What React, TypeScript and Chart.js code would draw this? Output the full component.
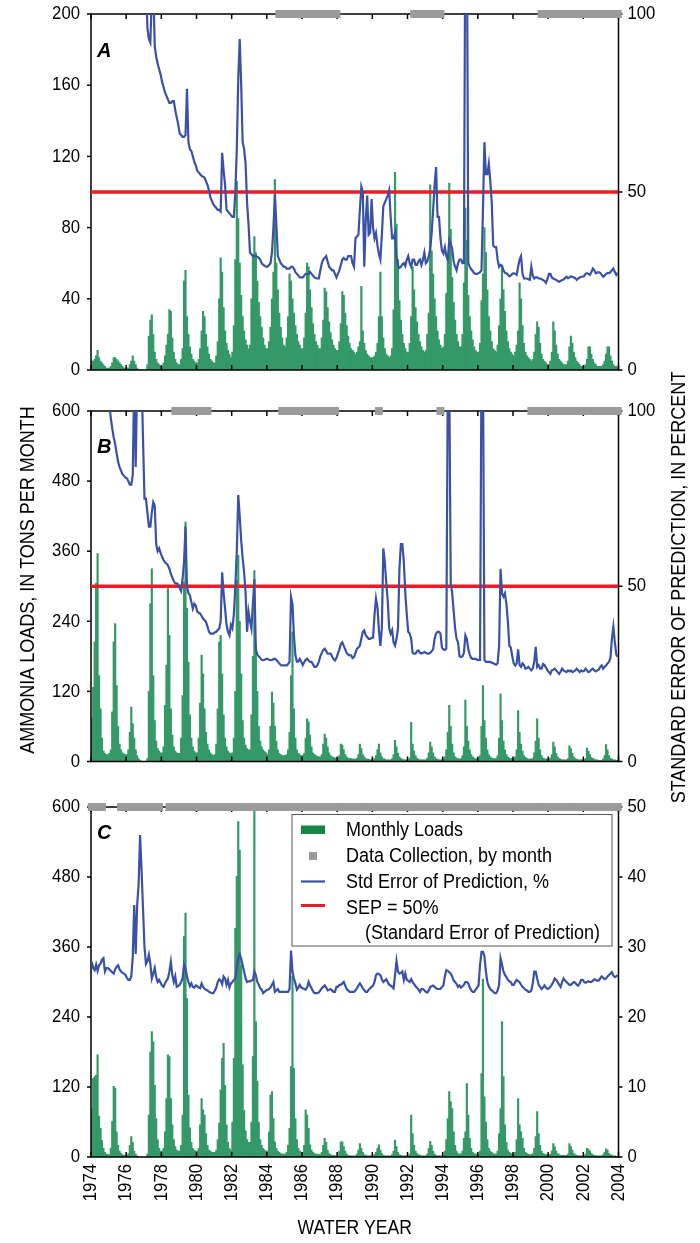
import React, { useEffect, useRef } from "react";
import { Chart, registerables } from "chart.js";
Chart.register(...registerables);

const FIRST_YEAR = 1974;
const LAST_YEAR = 2004;
const YEAR_TICKS = [1974, 1976, 1978, 1980, 1982, 1984, 1986, 1988, 1990, 1992, 1994, 1996, 1998, 2000, 2002, 2004];
const SEP_LIMIT = 50;

const LOAD_TICKS_A = [0, 40, 80, 120, 160, 200];
const SEP_TICKS_A = [0, 50, 100];
const LOAD_TICKS_B = [0, 120, 240, 360, 480, 600];
const SEP_TICKS_B = [0, 50, 100];
const LOAD_TICKS_C = [0, 120, 240, 360, 480, 600];
const SEP_TICKS_C = [0, 10, 20, 30, 40, 50];

const LEGEND_LABELS = ["Monthly Loads", "Data Collection, by month", "Std Error of Prediction, %", "SEP = 50%", "(Standard Error of Prediction)"];
const X_TITLE = "WATER YEAR";
const Y_TITLE = "AMMONIA LOADS, IN TONS PER MONTH";
const Y2_TITLE = "STANDARD ERROR OF PREDICTION, IN PERCENT";

const N = null;

// monthly loads, one row per water year (Oct..Sep), tons per month
const LOADS_A = [
  [5, 5, 6, 8, 11, 7, 5, 4, 3, 2, 1, 1],
  [1, 2, 4, 7, 7, 6, 5, 4, 3, 2, 1, 1],
  [1, 1, 3, 5, 8, 5, 3, 1, 0, 0, 0, 0],
  [0, 0, 3, 19, 28, 31, 20, 10, 6, 4, 3, 2],
  [2, 4, 8, 14, 20, 34, 33, 18, 10, 6, 4, 3],
  [3, 6, 12, 50, 56, 30, 20, 13, 9, 6, 5, 4],
  [4, 6, 12, 22, 33, 30, 20, 13, 9, 6, 5, 4],
  [4, 8, 16, 40, 63, 55, 35, 22, 15, 11, 9, 7],
  [10, 25, 62, 106, 85, 60, 42, 30, 22, 17, 14, 12],
  [14, 40, 65, 75, 66, 50, 38, 30, 24, 18, 14, 12],
  [12, 16, 24, 40, 55, 107, 60, 45, 32, 24, 18, 14],
  [13, 18, 30, 54, 50, 40, 32, 25, 20, 16, 14, 12],
  [12, 18, 32, 60, 58, 45, 35, 26, 20, 16, 14, 12],
  [12, 18, 28, 46, 44, 35, 27, 21, 17, 14, 12, 11],
  [11, 16, 26, 44, 42, 32, 25, 19, 15, 12, 11, 10],
  [9, 10, 13, 16, 47, 22, 15, 11, 9, 8, 7, 7],
  [7, 8, 10, 15, 30, 55, 30, 18, 12, 9, 8, 7],
  [8, 12, 34, 111, 82, 62, 39, 28, 20, 15, 12, 10],
  [10, 15, 30, 58, 45, 35, 27, 20, 16, 13, 11, 10],
  [11, 20, 32, 104, 67, 54, 40, 30, 22, 17, 14, 12],
  [13, 20, 43, 65, 105, 79, 52, 38, 28, 20, 16, 13],
  [13, 20, 49, 91, 73, 42, 30, 22, 17, 13, 11, 10],
  [10, 15, 39, 54, 80, 66, 45, 30, 22, 16, 12, 11],
  [10, 14, 25, 40, 58, 45, 33, 22, 16, 12, 10, 9],
  [8, 10, 14, 22, 49, 40, 25, 15, 10, 8, 7, 6],
  [5, 6, 10, 20, 27, 24, 15, 9, 6, 5, 4, 3],
  [3, 5, 10, 27, 22, 14, 9, 6, 5, 4, 3, 3],
  [3, 5, 13, 19, 15, 10, 7, 5, 4, 3, 2, 2],
  [2, 3, 6, 13, 13, 9, 6, 4, 3, 2, 2, 2],
  [2, 3, 5, 9, 13, 13, 8, 5, 3, 2, 2, 1],
];

// standard error of prediction, percent
const SEP_A = [
  [N, N, N, N, N, N, N, N, N, N, N, N],
  [N, N, N, N, N, N, N, N, N, N, N, N],
  [N, N, N, N, N, N, N, N, N, N, N, N],
  [N, 110, 96, 93, 92, 105, 108, 91, 88, 86, 84.5, 83],
  [81, 79.5, 78, 77, 76, 75, 75, 75.5, 75.5, 73, 71, 69],
  [66.5, 66, 65.5, 65.5, 66, 79, 64, 62, 61.5, 60, 58.5, 57.5],
  [56, 55.5, 55, 54.5, 54.3, 54, 53, 52, 50.5, 48.5, 47.5, 46.5],
  [46, 45.5, 45, 45, 44.5, 61, 56, 52, 45, 44.5, 44, 43.5],
  [43, 43, 50, 62, 82, 93, 80, 64, 62, 58, 47, 41],
  [33, 32.5, 32, 32, 32, 31.8, 31.5, 31, 30, 29.5, 29.3, 29],
  [29, 29.5, 30, 33, 40, 49.5, 41, 32, 31, 30, 29.5, 29],
  [29, 28.5, 28.5, 28.5, 29, 29, 28.5, 27.5, 27, 26.5, 26, 26],
  [26, 26.5, 27, 27, 27, 27.5, 27, 26.5, 26, 25.8, 25.7, 25.7],
  [28, 30, 31, 31.5, 32, 30.5, 29, 28.5, 28, 28, 27, 26],
  [27, 28, 29.5, 31, 31.5, 31, 31, 32, 32, 32, 30, 29],
  [37, 37.5, 38, 45, 51.5, 50, 29, 42, 49, 38, 38.5, 48],
  [40, 37, 38.5, 35, 32.5, 31, 38, 46, 47, 48, 49, 50.5],
  [43, 37, 37, 38.5, 32, 29.3, 28.7, 29, 29.7, 30, 29.2, 31],
  [32, 30, 29, 31, 31, 29.5, 29.5, 30.5, 31, 29.5, 31, 33],
  [30, 30.5, 32, 34, 38.5, 45, 52, 57, 43, 43, 37, 33.5],
  [32.7, 34.5, 32, 31, 36.5, 35.5, 34, 30.5, 29, 28, 30, 31],
  [31, 30, 30, 130, 130, 30, 29, 28.3, 27.8, 27.2, 27, 27],
  [27.2, 27.5, 28, 45, 64, 55, 55, 58, 53, 47, 35, 34.5],
  [34.5, 31, 29, 29.5, 29.3, 28, 27.3, 27.2, 26.8, 26.3, 26.6, 27],
  [27.2, 27, 26.7, 29, 31, 32, 27, 25.7, 25.7, 25.7, 25.5, 25.3],
  [29, 26.5, 25.7, 26, 26, 25.7, 25.7, 25.5, 25.3, 25, 24.5, 25.5],
  [27, 27, 26, 25.7, 25.5, 25.3, 25, 24.8, 25, 25.3, 25.4, 25.8],
  [26.2, 25.8, 26, 26.3, 26.2, 26, 25.8, 25.3, 25.7, 26, 26.2, 26.2],
  [26.4, 27, 27.2, 27, 26.7, 27.5, 28.5, 28, 27.2, 27.4, 27.5, 27.3],
  [26.8, 26.2, 26.5, 27, 27.2, 27.2, 27.5, 28, 28.5, 27.5, 26.7, 27.3],
];

const LOADS_B = [
  [76, 127, 205, 305, 356, 147, 90, 40, 18, 14, 12, 12],
  [14, 20, 85, 205, 236, 130, 60, 30, 20, 15, 13, 12],
  [12, 20, 50, 93, 65, 40, 20, 10, 5, 2, 0, 0],
  [0, 0, 5, 120, 270, 330, 147, 70, 35, 22, 18, 15],
  [15, 25, 96, 165, 296, 216, 90, 45, 25, 18, 15, 14],
  [14, 40, 113, 307, 410, 262, 170, 80, 40, 25, 18, 15],
  [15, 40, 100, 182, 150, 90, 50, 30, 20, 15, 12, 10],
  [12, 30, 90, 205, 216, 150, 80, 40, 25, 18, 15, 14],
  [15, 40, 120, 310, 353, 240, 150, 70, 40, 28, 22, 20],
  [20, 80, 180, 327, 200, 120, 60, 35, 25, 20, 17, 15],
  [12, 20, 60, 119, 100, 60, 35, 20, 14, 12, 10, 10],
  [10, 12, 20, 50, 147, 222, 90, 40, 20, 14, 12, 10],
  [10, 14, 40, 73, 68, 45, 25, 15, 12, 10, 9, 8],
  [8, 12, 30, 47, 40, 25, 15, 10, 8, 7, 6, 6],
  [6, 10, 30, 28, 20, 12, 8, 6, 5, 5, 4, 4],
  [4, 6, 12, 30, 22, 12, 8, 5, 4, 4, 3, 3],
  [3, 5, 10, 20, 30, 15, 8, 5, 4, 3, 3, 3],
  [3, 5, 12, 36, 25, 14, 8, 5, 4, 3, 3, 3],
  [3, 6, 67, 30, 18, 10, 6, 4, 3, 3, 3, 3],
  [3, 6, 15, 33, 25, 15, 8, 5, 4, 3, 3, 3],
  [4, 8, 20, 50, 96, 60, 30, 15, 8, 6, 5, 4],
  [5, 10, 25, 105, 60, 35, 20, 12, 8, 6, 5, 5],
  [5, 10, 60, 130, 70, 40, 20, 12, 8, 6, 5, 5],
  [5, 10, 40, 116, 70, 35, 20, 12, 8, 6, 5, 5],
  [5, 8, 20, 87, 50, 30, 18, 10, 7, 5, 4, 4],
  [4, 6, 15, 35, 73, 40, 20, 10, 6, 5, 4, 4],
  [4, 6, 12, 33, 25, 14, 8, 5, 4, 3, 3, 3],
  [3, 5, 27, 22, 14, 8, 5, 4, 3, 3, 3, 3],
  [3, 5, 23, 18, 12, 7, 5, 4, 3, 3, 2, 2],
  [2, 4, 10, 29, 20, 10, 6, 4, 3, 3, 2, 2],
];

const SEP_B = [
  [N, N, N, N, N, N, N, N, N, N, N, N],
  [102, 98, 95, 92.5, 90.5, 88, 85.5, 84, 83, 82, 81.5, 81],
  [80.8, 80, 79, 79, 81.7, 110, 84, 110, 115, 115, 110, 92],
  [75, 75, 71, 67, 67, 71, 74, 73, 62, 60, 60.8, 59.5],
  [58.4, 57.5, 56.8, 56.5, 56, 55, 53.5, 52.5, 51.5, 50.8, 50.8, 50.5],
  [49.5, 48.6, 52, 57, 67, 50, 48, 47.4, 45.5, 43.6, 45, 44.5],
  [42.8, 42.5, 42.2, 41.5, 40.8, 40.3, 39.8, 38.5, 37, 36.5, 36.5, 36.5],
  [36.8, 37, 37.5, 37.9, 40, 54, 48, 43.6, 39, 37, 36, 39],
  [38, 42, 50, 60, 76, 70, 63, 58, 54, 48, 37, 42.7],
  [40, 37.9, 45, 52, 32, 30.5, 30, 29.5, 29, 28.9, 29, 29.3],
  [29.3, 29, 28.9, 29, 29.2, 29.3, 29, 28.5, 28, 27.5, 27.4, 27.4],
  [27.4, 27.4, 27.8, 28.4, 47, 45, 36, 30.3, 28.5, 28.5, 29.3, 28.5],
  [27.5, 28.3, 29, 29.3, 28.8, 28.4, 28.4, 27.7, 27, 27, 27.5, 28.5],
  [30, 31, 31.8, 32.2, 31.5, 30.8, 30.8, 30.8, 30, 29.2, 28.8, 29.5],
  [30.8, 32, 33.5, 34, 33, 32, 31, 30.5, 30.3, 30.3, 29.5, 29.8],
  [31, 32.2, 32.5, 33.1, 35, 37, 37.4, 36, 35.5, 35, 35, 35.3],
  [35.3, 42, 46.5, 44, 37.5, 33, 38, 60.8, 57, 51, 46, 38],
  [36.5, 37.5, 34, 33.1, 35, 37.9, 55, 62, 62, 57, 48, 42],
  [37, 36.5, 35, 31, 30.8, 30.8, 31.5, 31.7, 31, 30.8, 31, 31.2],
  [31, 30.8, 30.8, 31, 31.5, 32, 35, 36.5, 37, 37, 36.5, 32.5],
  [32, 31.8, 32.2, 110, 110, 51, 48, 43, 38, 35, 34, 30],
  [29.8, 30, 31, 36, 35, 32, 30.5, 29.5, 29.3, 29.3, 29.3, 29],
  [29, 29, 115, 115, 29, 28.4, 28.4, 28.4, 28.4, 28.2, 28, 27.8],
  [27.6, 28, 33, 55, 48, 47, 48, 45, 40, 33, 32.5, 30],
  [28, 27.4, 28, 32, 27.5, 27, 28, 27.5, 26.5, 26.6, 27, 26.5],
  [26, 26.5, 28.5, 32.7, 27, 27.5, 26.5, 26.5, 27.8, 27.5, 26.8, 26],
  [25.5, 25, 26, 26.2, 26.5, 26, 25.5, 25, 25.6, 26.5, 26, 25.7],
  [25.5, 26, 25.7, 26, 25.5, 25.7, 26, 26.5, 26, 25.5, 26, 25.7],
  [25.8, 26.5, 26, 25.5, 25.7, 26.2, 26.5, 26, 25.7, 26, 26.2, 27],
  [27.4, 26.5, 27, 27.4, 28, 28.4, 29.5, 35, 38.4, 34, 30.5, 29.8],
];

const LOADS_C = [
  [83, 135, 138, 140, 175, 70, 49, 28, 15, 8, 5, 4],
  [4, 15, 61, 121, 118, 43, 20, 10, 6, 4, 3, 3],
  [3, 6, 20, 35, 25, 10, 5, 2, 0, 0, 0, 0],
  [0, 0, 5, 72, 180, 215, 198, 123, 66, 30, 15, 10],
  [10, 15, 43, 100, 175, 172, 100, 55, 30, 18, 12, 10],
  [10, 20, 72, 378, 418, 272, 106, 50, 25, 15, 12, 10],
  [10, 15, 55, 100, 81, 72, 40, 20, 12, 10, 8, 8],
  [8, 12, 30, 58, 115, 169, 195, 123, 55, 25, 15, 12],
  [60, 169, 392, 481, 575, 526, 329, 158, 80, 45, 30, 25],
  [25, 60, 172, 600, 232, 130, 60, 30, 20, 15, 12, 10],
  [10, 43, 106, 112, 66, 26, 15, 10, 8, 6, 5, 5],
  [5, 8, 20, 49, 155, 310, 152, 66, 30, 15, 10, 8],
  [8, 20, 81, 72, 49, 21, 12, 8, 6, 5, 5, 4],
  [4, 8, 20, 32, 25, 12, 6, 4, 3, 3, 2, 2],
  [2, 10, 26, 26, 18, 10, 5, 3, 2, 2, 2, 2],
  [2, 5, 12, 23, 15, 8, 4, 3, 2, 2, 2, 2],
  [2, 4, 8, 15, 21, 12, 6, 3, 2, 2, 2, 2],
  [2, 4, 10, 29, 18, 8, 4, 3, 2, 2, 2, 2],
  [2, 5, 72, 40, 20, 10, 6, 4, 3, 2, 2, 2],
  [2, 5, 15, 27, 20, 10, 5, 3, 2, 2, 2, 2],
  [3, 10, 30, 66, 112, 95, 83, 43, 20, 10, 6, 5],
  [5, 10, 32, 43, 126, 72, 32, 15, 8, 6, 5, 5],
  [5, 10, 143, 305, 103, 60, 30, 15, 10, 8, 6, 5],
  [5, 10, 40, 83, 232, 138, 55, 25, 12, 8, 6, 5],
  [5, 8, 30, 100, 55, 43, 32, 15, 8, 6, 5, 4],
  [4, 6, 15, 35, 78, 40, 20, 10, 6, 5, 4, 4],
  [4, 5, 10, 23, 18, 10, 6, 4, 3, 3, 3, 3],
  [3, 5, 23, 18, 12, 6, 4, 3, 2, 2, 2, 2],
  [2, 5, 15, 13, 10, 6, 4, 3, 2, 2, 2, 2],
  [2, 4, 8, 14, 12, 6, 4, 3, 2, 2, 1, 1],
];

const SEP_C = [
  [27.9, 27, 26.7, 27.5, 26.6, 27.4, 27.6, 28.2, 28.4, 26.5, 27, 27],
  [26.8, 26.6, 26.4, 26.2, 26.8, 27.2, 27.4, 26.8, 26.5, 26.3, 26.2, 26],
  [25.6, 25.3, 25.3, 25.8, 28.6, 36, 29, 36, 39, 46, 41, 35.5],
  [30, 27.6, 28, 28.9, 27.6, 25.5, 26.2, 27, 25.7, 25, 25.3, 24.9],
  [24.5, 24.3, 24.8, 25.2, 25.5, 26.5, 27.9, 26, 25, 25.8, 24.3, 24.4],
  [24.6, 25, 25.5, 27.5, 27, 25.8, 25, 24.4, 24.8, 24.3, 24.2, 24.5],
  [24.4, 24.2, 24.1, 24.8, 24.3, 24, 23.9, 23.8, 23.6, 23.5, 23.4, 23.4],
  [23.8, 24.2, 25, 25.4, 25.2, 24.7, 25.8, 25.5, 24.6, 25.3, 24.2, 24.8],
  [25, 25.3, 25.5, 27, 28.5, 29, 28.3, 27.4, 26.5, 25.5, 25, 25.1],
  [25.1, 25.2, 25.3, 26.5, 26, 25, 24.6, 24.1, 23.9, 23.4, 23.6, 23.8],
  [23.9, 24, 24.2, 24.6, 25, 23.6, 23.8, 24, 23.6, 23.6, 23.6, 23.6],
  [23.6, 23.6, 23.6, 24, 29.5, 26.5, 25.5, 24.8, 23.9, 24.2, 24.6, 24.2],
  [24.1, 24, 23.9, 24.2, 25, 24.5, 24.1, 23.7, 23.4, 23.4, 23.4, 23.5],
  [23.8, 24.1, 24.3, 24.5, 24.2, 23.8, 23.9, 24, 23.8, 23.6, 23.6, 24.3],
  [24.3, 24.6, 24.6, 24.8, 25, 24.5, 24, 23.8, 23.6, 23.6, 23.6, 23.6],
  [23.8, 24.1, 24.5, 24.8, 24.5, 24.1, 23.8, 23.6, 23.6, 23.9, 24.1, 24.3],
  [24.5, 25, 26, 26.2, 26.1, 26, 25.4, 25, 25.2, 25.4, 25, 24.6],
  [24.5, 24.3, 24.1, 26, 28, 26.5, 26.2, 26.3, 26.5, 25.3, 26.2, 25.3],
  [25.2, 25, 25.4, 25, 24.7, 24.4, 24.2, 23.9, 23.6, 24, 24, 23.8],
  [23.6, 23.5, 23.8, 24.3, 24.4, 24.5, 24.3, 24.1, 24, 24, 24, 24.3],
  [24.5, 25.8, 26.7, 26.6, 26.4, 26.2, 25.8, 25.2, 25, 24.7, 24.3, 24.5],
  [24.2, 24.4, 24.6, 25, 25, 24.8, 24.2, 23.8, 23.6, 23.6, 23.9, 24.2],
  [24.5, 27.4, 29.3, 29.3, 28.7, 26.5, 25, 24.4, 24, 23.8, 23.6, 23.4],
  [23.4, 23.8, 24.6, 28.4, 27.5, 26.5, 26, 25.7, 25.3, 25.1, 25, 24.6],
  [24.6, 25, 25.3, 25.1, 25, 24.6, 24.3, 24.1, 23.9, 23.8, 23.6, 23.6],
  [23.8, 24.8, 26.5, 26.5, 25.5, 24.6, 24.3, 24, 24.2, 24.5, 24.2, 24],
  [24.1, 24.3, 24.6, 25, 25.5, 25.3, 25, 24.6, 24.3, 25, 25.5, 25.2],
  [25, 24.8, 24.6, 24.6, 24.8, 25, 24.9, 24.6, 24.5, 24.8, 25.3, 25.3],
  [25, 24.9, 25, 25.1, 25, 25, 25.2, 25.4, 25.3, 25.2, 25.2, 25.5],
  [25.8, 25.6, 25.4, 25.5, 25.8, 26, 26.2, 26.4, 25.9, 25.7, 25.8, 26],
];

// periods (decimal water years) with monthly data collection
const COLLECTION_A = [[1984.7, 1988.0], [1992.3, 1993.95], [1999.55, 2004]];
const COLLECTION_B = [[1978.75, 1980.7], [1984.8, 1987.9], [1990.35, 1990.45], [1993.85, 1993.95], [1999.0, 2004]];
const COLLECTION_C = [[1974.0, 1974.65], [1975.65, 1977.95], [1978.45, 2004]];

const GREEN = "rgb(52,153,103)";
const LEGEND_GREEN = "rgb(21,133,72)";
const BLUE = "rgb(58,82,166)";
const RED = "rgb(237,28,36)";
const GRAY = "rgb(155,155,155)";
const FONT = '"Liberation Sans", Arial, sans-serif';

const monthX = (i: number) => FIRST_YEAR + (i + 0.5) / 12;
const series = (rows: (number | null)[][]) => rows.flat().map((v, i) => ({ x: monthX(i), y: v }));
const collection = (ranges: number[][], top: number) => {
  const pts: { x: number; y: number }[] = [];
  for (let i = 0; i < (LAST_YEAR - FIRST_YEAR) * 12; i++) {
    const t = monthX(i);
    if (ranges.some(([a, b]) => t >= a - 1e-6 && t <= b + 1e-6)) pts.push({ x: t, y: top });
  }
  return pts;
};

function txt(ctx: CanvasRenderingContext2D, s: string, x: number, y: number, o: any = {}) {
  const size = o.size ?? 19;
  ctx.save();
  ctx.translate(x, y);
  if (o.rot) ctx.rotate(o.rot);
  ctx.scale(o.sx ?? 0.88, 1);
  ctx.font = `${o.style ?? ""} ${o.weight ?? ""} ${size}px ${FONT}`;
  ctx.textAlign = o.align ?? "center";
  ctx.textBaseline = o.baseline ?? "middle";
  ctx.fillStyle = "#000";
  ctx.fillText(s, 0, 0);
  ctx.restore();
}

function line(ctx: CanvasRenderingContext2D, x1: number, y1: number, x2: number, y2: number) {
  ctx.beginPath();
  ctx.moveTo(x1, y1);
  ctx.lineTo(x2, y2);
  ctx.stroke();
}

const PANELS = [
  { key: "A", top: 0, height: 385, padTop: 14, padBottom: 15, loads: LOADS_A, sep: SEP_A, coll: COLLECTION_A,
    loadTicks: LOAD_TICKS_A, sepTicks: SEP_TICKS_A, letterY: 57, sepLine: true, xLabels: false, legend: false, titles: false },
  { key: "B", top: 372, height: 430, padTop: 39, padBottom: 40.5, loads: LOADS_B, sep: SEP_B, coll: COLLECTION_B,
    loadTicks: LOAD_TICKS_B, sepTicks: SEP_TICKS_B, letterY: 81, sepLine: true, xLabels: false, legend: false, titles: true },
  { key: "C", top: 795, height: 448, padTop: 12, padBottom: 86, loads: LOADS_C, sep: SEP_C, coll: COLLECTION_C,
    loadTicks: LOAD_TICKS_C, sepTicks: SEP_TICKS_C, letterY: 44, sepLine: false, xLabels: true, legend: true, titles: false },
];

function drawFrame(chart: any, p: any) {
  const { ctx, chartArea, scales } = chart;
  const { left, right, top, bottom } = chartArea;
  ctx.save();
  ctx.strokeStyle = "#000";
  ctx.lineWidth = 1.5;
  ctx.strokeRect(left, top, right - left, bottom - top);
  YEAR_TICKS.forEach((yr) => {
    const px = scales.x.getPixelForValue(yr);
    line(ctx, px, top, px, top + 5);
    line(ctx, px, bottom, px, bottom - 5);
  });
  p.loadTicks.forEach((v: number) => {
    const py = scales.y.getPixelForValue(v);
    line(ctx, left - 4, py, left, py);
  });
  p.sepTicks.forEach((v: number) => {
    const py = scales.y2.getPixelForValue(v);
    line(ctx, right, py, right + 4, py);
  });
  ctx.restore();
}

function drawLegend(ctx: CanvasRenderingContext2D, offY: number) {
  const y = (v: number) => v - offY;
  ctx.save();
  ctx.fillStyle = "#fff";
  ctx.fillRect(292, y(814.5), 320, 131.5);
  ctx.strokeStyle = "#555";
  ctx.lineWidth = 1;
  ctx.strokeRect(292, y(814.5), 320, 131.5);
  ctx.fillStyle = LEGEND_GREEN;
  ctx.fillRect(301, y(825.5), 24, 8.5);
  ctx.fillStyle = GRAY;
  ctx.fillRect(309, y(852), 8, 8);
  ctx.strokeStyle = BLUE;
  ctx.lineWidth = 2.2;
  line(ctx, 301, y(881.5), 325, y(881.5));
  ctx.strokeStyle = RED;
  ctx.lineWidth = 3;
  line(ctx, 301, y(905.5), 325, y(905.5));
  ctx.restore();
  txt(ctx, LEGEND_LABELS[0], 346, y(830), { size: 20, align: "left", sx: 0.9 });
  txt(ctx, LEGEND_LABELS[1], 346, y(856), { size: 20, align: "left", sx: 0.9 });
  txt(ctx, LEGEND_LABELS[2], 346, y(882), { size: 20, align: "left", sx: 0.9 });
  txt(ctx, LEGEND_LABELS[3], 346, y(908), { size: 20, align: "left", sx: 0.9 });
  txt(ctx, LEGEND_LABELS[4], 365, y(933), { size: 20, align: "left", sx: 0.9 });
}

function drawTexts(chart: any, p: any) {
  const { ctx, chartArea, scales } = chart;
  const { left, right, bottom } = chartArea;
  p.loadTicks.forEach((v: number) => txt(ctx, String(v), left - 11, scales.y.getPixelForValue(v), { align: "right" }));
  p.sepTicks.forEach((v: number) => txt(ctx, String(v), right + 9, scales.y2.getPixelForValue(v), { align: "left" }));
  txt(ctx, p.key, left + 6, p.letterY, { size: 20, weight: "bold", style: "italic", align: "left", baseline: "alphabetic", sx: 1 });
  if (p.xLabels) {
    YEAR_TICKS.forEach((yr) =>
      txt(ctx, String(yr), scales.x.getPixelForValue(yr), bottom + 7, { align: "right", rot: -Math.PI / 2 })
    );
    txt(ctx, X_TITLE, (left + right) / 2, 1228 - p.top, { size: 20 });
  }
  if (p.titles) {
    txt(ctx, Y_TITLE, 28, 580 - p.top, { size: 20, rot: -Math.PI / 2, sx: 0.9 });
    txt(ctx, Y2_TITLE, 679, 587 - p.top, { size: 20, rot: -Math.PI / 2, sx: 0.9 });
  }
  if (p.legend) drawLegend(ctx, p.top);
}

function buildConfig(p: any): any {
  const yMax = p.loadTicks[p.loadTicks.length - 1];
  const y2Max = p.sepTicks[p.sepTicks.length - 1];
  const datasets: any[] = [
    { type: "bar", data: series(p.loads), backgroundColor: GREEN, borderWidth: 0, barPercentage: 1, categoryPercentage: 1,
      inflateAmount: 0.35, xAxisID: "x", yAxisID: "y", order: 4 },
  ];
  if (p.sepLine) {
    datasets.push({ type: "line", data: [{ x: FIRST_YEAR, y: SEP_LIMIT }, { x: LAST_YEAR, y: SEP_LIMIT }], borderColor: RED,
      borderWidth: 3.5, pointRadius: 0, xAxisID: "x", yAxisID: "y2", order: 3 });
  }
  datasets.push({ type: "line", data: series(p.sep), borderColor: BLUE, borderWidth: 2.2, pointRadius: 0, tension: 0,
    spanGaps: false, xAxisID: "x", yAxisID: "y2", order: 2 });
  datasets.push({ type: "line", data: collection(p.coll, yMax), showLine: false, pointStyle: "rect", pointRadius: 5.6,
    pointBackgroundColor: GRAY, pointBorderWidth: 0, xAxisID: "x", yAxisID: "y", clip: false, order: 1 });

  return {
    type: "bar",
    data: { datasets },
    options: {
      responsive: false,
      animation: false,
      events: [],
      layout: { padding: { left: 91, right: 81.5, top: p.padTop, bottom: p.padBottom } },
      plugins: { legend: { display: false }, tooltip: { enabled: false } },
      scales: {
        x: { type: "linear", min: FIRST_YEAR, max: LAST_YEAR, display: false, offset: false },
        y: { type: "linear", position: "left", min: 0, max: yMax, display: false },
        y2: { type: "linear", position: "right", min: 0, max: y2Max, display: false },
      },
    },
    plugins: [
      {
        id: "panelDecor" + p.key,
        afterDatasetDraw(chart: any, args: any) {
          if (args.index === 0) drawFrame(chart, p);
        },
        afterDraw(chart: any) {
          drawTexts(chart, p);
        },
      },
    ],
  };
}

function Panel({ p }: { p: any }) {
  const ref = useRef<HTMLCanvasElement>(null);
  useEffect(() => {
    const chart = new Chart(ref.current as HTMLCanvasElement, buildConfig(p));
    return () => chart.destroy();
  }, [p]);
  return (
    <canvas
      ref={ref}
      width={700}
      height={p.height}
      style={{ position: "absolute", left: 0, top: p.top, width: 700, height: p.height }}
    />
  );
}

export default function App() {
  return (
    <div style={{ position: "absolute", left: 0, top: 0, width: 700, height: 1243, background: "#fff", overflow: "hidden" }}>
      {PANELS.map((p) => (
        <Panel key={p.key} p={p} />
      ))}
    </div>
  );
}
